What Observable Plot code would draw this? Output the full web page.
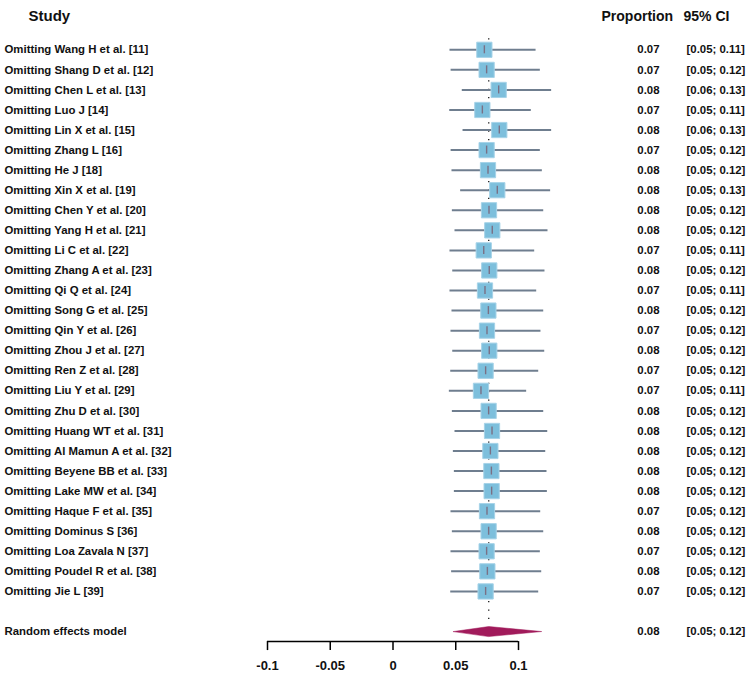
<!DOCTYPE html>
<html><head><meta charset="utf-8">
<script src="https://cdn.jsdelivr.net/npm/d3@7"></script>
<script src="https://cdn.jsdelivr.net/npm/@observablehq/plot@0.6"></script>
<style>body{margin:0;background:#fff;}</style>
</head><body><div id="chart"></div>
<script>
const studies = [
  "Omitting Wang H et al. [11]","Omitting Shang D et al. [12]","Omitting Chen L et al. [13]","Omitting Luo J [14]",
  "Omitting Lin X et al. [15]","Omitting Zhang L [16]","Omitting He J [18]","Omitting Xin X et al. [19]",
  "Omitting Chen Y et al. [20]","Omitting Yang H et al. [21]","Omitting Li C et al. [22]","Omitting Zhang A et al. [23]",
  "Omitting Qi Q et al. [24]","Omitting Song G et al. [25]","Omitting Qin Y et al. [26]","Omitting Zhou J et al. [27]",
  "Omitting Ren Z et al. [28]","Omitting Liu Y et al. [29]","Omitting Zhu D et al. [30]","Omitting Huang WT et al. [31]",
  "Omitting Al Mamun A et al. [32]","Omitting Beyene BB et al. [33]","Omitting Lake MW et al. [34]","Omitting Haque F et al. [35]",
  "Omitting Dominus S [36]","Omitting Loa Zavala N [37]","Omitting Poudel R et al. [38]","Omitting Jie L [39]"
];
const estimate = [0.0728,0.0746,0.0842,0.0712,0.0847,0.0746,0.0757,0.0831,0.0765,0.0791,0.0723,0.0767,0.0733,0.0760,
  0.0749,0.0767,0.0738,0.0701,0.0762,0.0789,0.0776,0.0784,0.0786,0.0749,0.0762,0.0746,0.0752,0.0738];
const lower = [0.0454,0.0463,0.0552,0.0452,0.0558,0.0463,0.0470,0.0539,0.0473,0.0494,0.0454,0.0476,0.0454,0.0470,
  0.0462,0.0476,0.0460,0.0449,0.0473,0.0494,0.0481,0.0489,0.0489,0.0462,0.0473,0.0462,0.0467,0.0460];
const upper = [0.1140,0.1174,0.1264,0.1102,0.1264,0.1174,0.1190,0.1256,0.1201,0.1235,0.1129,0.1211,0.1145,0.1201,
  0.1179,0.1209,0.1161,0.1065,0.1201,0.1233,0.1217,0.1227,0.1230,0.1177,0.1201,0.1174,0.1185,0.1161];
const propLabels = ["0.07","0.07","0.08","0.07","0.08","0.07","0.08","0.08","0.08","0.08","0.07","0.08","0.07","0.08",
  "0.07","0.08","0.07","0.07","0.08","0.08","0.08","0.08","0.08","0.07","0.08","0.07","0.08","0.07"];
const ciLabels = ["[0.05; 0.11]","[0.05; 0.12]","[0.06; 0.13]","[0.05; 0.11]","[0.06; 0.13]","[0.05; 0.12]","[0.05; 0.12]",
  "[0.05; 0.13]","[0.05; 0.12]","[0.05; 0.12]","[0.05; 0.11]","[0.05; 0.12]","[0.05; 0.11]","[0.05; 0.12]",
  "[0.05; 0.12]","[0.05; 0.12]","[0.05; 0.12]","[0.05; 0.11]","[0.05; 0.12]","[0.05; 0.12]","[0.05; 0.12]",
  "[0.05; 0.12]","[0.05; 0.12]","[0.05; 0.12]","[0.05; 0.12]","[0.05; 0.12]","[0.05; 0.12]","[0.05; 0.12]"];
const pooledLabel = "Random effects model";
const pooledEst = 0.0763, pooledLower = 0.0481, pooledUpper = 0.1185;
const pooledProp = "0.08", pooledCI = "[0.05; 0.12]";
const headers = ["Study","Proportion","95% CI"];
const tickValues = [-0.1,-0.05,0,0.05,0.1];
const tickLabels = ["-0.1","-0.05","0","0.05","0.1"];

const rows = studies.map((s,i)=>({label:s,row:i+1,est:estimate[i],lo:lower[i],hi:upper[i],p:propLabels[i],ci:ciLabels[i]}));
const pooledRow = studies.length + 2;
const pooled = {label:pooledLabel,row:pooledRow,est:pooledEst,lo:pooledLower,hi:pooledUpper,p:pooledProp,ci:pooledCI};
const allRows = rows.concat([pooled]);
const diamond = [
  {x:pooled.lo,y:pooledRow},{x:pooled.est,y:pooledRow-0.25},
  {x:pooled.hi,y:pooledRow},{x:pooled.est,y:pooledRow+0.25}
];
const yMax = pooledRow + 0.5;
const FS = 11.4;
const ink = "#111";

const plot = Plot.plot({
  width:750, height:674,
  marginLeft:267, marginRight:232, marginTop:29.24, marginBottom:32.93,
  x:{domain:[tickValues[0], tickValues[tickValues.length-1]]},
  y:{domain:[0,yMax], reverse:true, axis:null},
  style:{fontFamily:"'Liberation Sans', Arial, Helvetica, sans-serif", fontWeight:"bold", background:"#fff", color:ink, overflow:"visible"},
  marks:[
    Plot.ruleX([pooled], {x:"est", y1:0.45, y2:pooledRow-0.25, stroke:"#000", strokeWidth:1.2, strokeDasharray:"1.2,7.2"}),
    Plot.ruleY(rows, {y:"row", x1:"lo", x2:"hi", stroke:"#6f7e8f", strokeWidth:2}),
    Plot.dot(rows, {x:"est", y:"row", symbol:"square", r:8.6, fill:"#7dbfdc", stroke:"#a6d3e8", strokeWidth:1}),
    Plot.ruleX(rows, {x:"est", y1:d=>d.row-0.2, y2:d=>d.row+0.2, stroke:"#7a7085", strokeWidth:1.4}),
    Plot.line(diamond, {x:"x", y:"y", curve:"linear-closed", fill:"#a11b5b", stroke:"#a11b5b", strokeWidth:0.5}),
    Plot.ruleY([yMax], {x1:tickValues[0], x2:tickValues[tickValues.length-1], stroke:"#000", strokeWidth:1.5}),
    Plot.axisX({ticks:tickValues, tickFormat:(d)=>tickLabels[tickValues.indexOf(d)], tickSize:9, tickPadding:10, fontSize:13, fontWeight:"bold", stroke:"#000", strokeWidth:1.5, label:null}),
    Plot.text(allRows, {y:"row", text:"label", frameAnchor:"left", dx:-263, textAnchor:"start", fontSize:FS, fill:ink}),
    Plot.text(allRows, {y:"row", text:"p", frameAnchor:"right", dx:141, textAnchor:"end", fontSize:FS, fill:ink}),
    Plot.text(allRows, {y:"row", text:"ci", frameAnchor:"right", dx:168, textAnchor:"start", fontSize:FS, fill:ink}),
    Plot.text([headers[0]], {text:d=>d, frameAnchor:"top-left", dx:28-267, dy:-19, textAnchor:"start", fontSize:15, fill:ink}),
    Plot.text([headers[1]], {text:d=>d, frameAnchor:"top-right", dx:83, dy:-19, textAnchor:"start", fontSize:14, fill:ink}),
    Plot.text([headers[2]], {text:d=>d, frameAnchor:"top-right", dx:165, dy:-19, textAnchor:"start", fontSize:14, fill:ink})
  ]
});
document.getElementById("chart").appendChild(plot);
</script>
</body></html>
